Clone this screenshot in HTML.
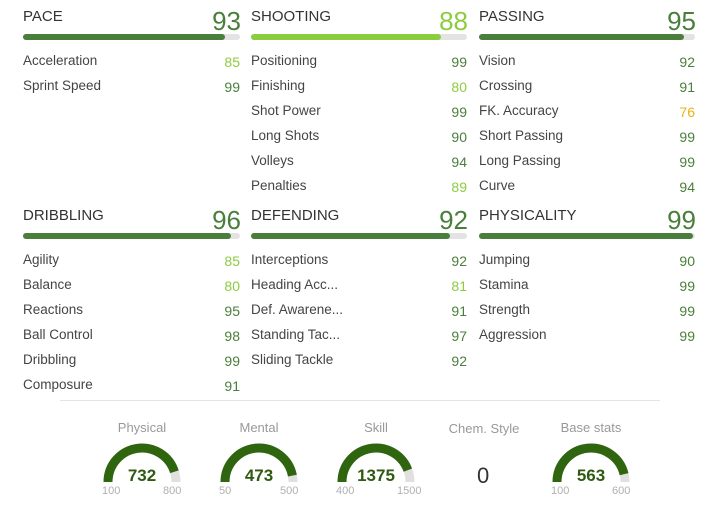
<!DOCTYPE html>
<html><head><meta charset="utf-8"><style>
body{margin:0;width:715px;height:517px;background:#fff;position:relative;overflow:hidden;font-family:"Liberation Sans",sans-serif}
.a{position:absolute;white-space:nowrap}
.h{font-size:15px;color:#333}
.big{font-size:26px;text-align:right;width:60px}
.lab{font-size:13.5px;color:#444}
.v{font-size:14px;text-align:right;width:40px}
.bar{position:absolute;height:6px;background:#e3e3e3;border-radius:3px}
.bar div{height:6px;border-radius:3px}
.gl{font-size:13px;color:#999;text-align:center;width:120px}
.mm{font-size:11px;color:#b0b0b0}
</style></head><body>
<div class="a" style="left:60px;right:55px;top:400px;height:1px;background:#e4e4e4"></div>
<script>
function col(v){return v>=90?"#4a7f3b":v>=80?"#8ccc3f":"#e7b318"}
const S=[
[23,240,8,"PACE",93,[["Acceleration",85],["Sprint Speed",99]]],
[251,467,8,"SHOOTING",88,[["Positioning",99],["Finishing",80],["Shot Power",99],["Long Shots",90],["Volleys",94],["Penalties",89]]],
[479,695,8,"PASSING",95,[["Vision",92],["Crossing",91],["FK. Accuracy",76],["Short Passing",99],["Long Passing",99],["Curve",94]]],
[23,240,207,"DRIBBLING",96,[["Agility",85],["Balance",80],["Reactions",95],["Ball Control",98],["Dribbling",99],["Composure",91]]],
[251,467,207,"DEFENDING",92,[["Interceptions",92],["Heading Acc...",81],["Def. Awarene...",91],["Standing Tac...",97],["Sliding Tackle",92]]],
[479,695,207,"PHYSICALITY",99,[["Jumping",90],["Stamina",99],["Strength",99],["Aggression",99]]]];
let h="";
for(const [x0,x1,y,n,v,rows] of S){
 h+=`<div class="a h" style="left:${x0}px;top:${y}px">${n}</div>`;
 h+=`<div class="a big" style="left:${x1-60+1}px;top:${y-2}px;color:${v>=90?'#4a7f3b':'#8ccc3f'}">${v}</div>`;
 const w=x1-x0;
 h+=`<div class="bar" style="left:${x0}px;top:${y+26}px;width:${w}px"><div style="width:${Math.round(w*v/100)}px;background:${v>=90?'#4a7f3b':'#8ccc3f'}"></div></div>`;
 rows.forEach((r,i)=>{const yy=y+45+i*25;
  h+=`<div class="a lab" style="left:${x0}px;top:${yy}px">${r[0]}</div>`;
  h+=`<div class="a v" style="left:${x1-40}px;top:${yy+1}px;color:${col(r[1])}">${r[1]}</div>`;});
}
const G=[[142,"Physical",732,100,800],[259,"Mental",473,50,500],[376,"Skill",1375,400,1500],[591,"Base stats",563,100,600]];
for(const [cx,n,v,mn,mx] of G){
 h+=`<div class="a gl" style="left:${cx-60}px;top:420px">${n}</div>`;
 const f=(v-mn)/(mx-mn),r=34,cy=482;
 const ang=Math.PI*(1-f);const ex=cx+r*Math.cos(ang),ey=cy-r*Math.sin(ang);
 h+=`<svg class="a" style="left:0;top:0" width="715" height="517"><path d="M${cx-r} ${cy} A${r} ${r} 0 0 1 ${cx+r} ${cy}" fill="none" stroke="#e0e0e0" stroke-width="9"/><path d="M${cx-r} ${cy} A${r} ${r} 0 0 1 ${ex} ${ey}" fill="none" stroke="#2f650f" stroke-width="9"/><text x="${cx}" y="481" text-anchor="middle" font-family="Liberation Sans" font-weight="bold" font-size="17" fill="#2f5a12">${v}</text></svg>`;
 h+=`<div class="a mm" style="left:${cx-r-6}px;top:485px">${mn}</div>`;
 h+=`<div class="a mm" style="left:${cx+r-13}px;top:485px">${mx}</div>`;
}
h+=`<div class="a gl" style="left:424px;top:421px">Chem. Style</div><div class="a" style="left:477px;top:463px;font-size:22px;color:#333">0</div>`;
document.write(h);
</script>
</body></html>
